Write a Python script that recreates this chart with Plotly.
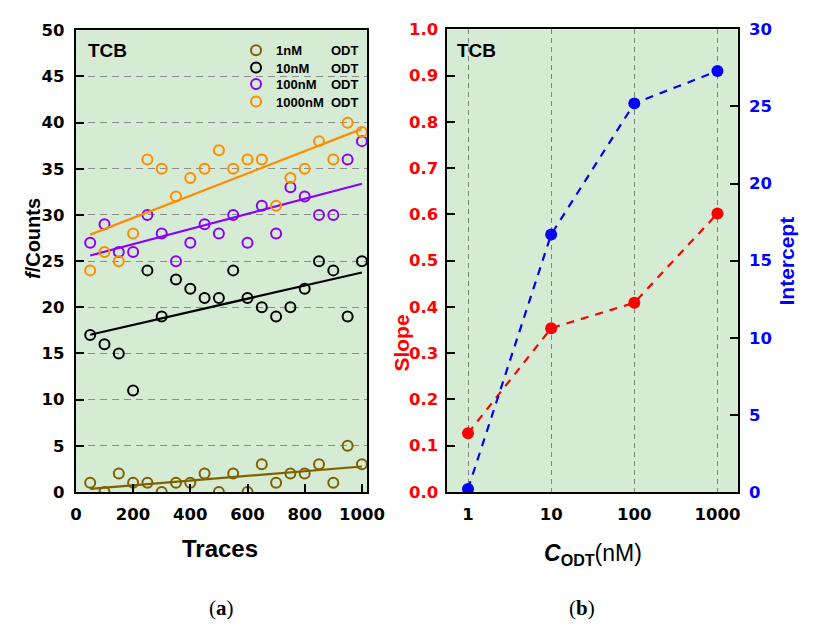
import numpy as np
import plotly.graph_objects as go

W, H = 816, 629

# ---------------- data ----------------
traces = [50, 100, 150, 200, 250, 300, 350, 400, 450, 500,
          550, 600, 650, 700, 750, 800, 850, 900, 950, 1000]
counts_1nM = [1, 0, 2, 1, 1, 0, 1, 1, 2, 0, 2, 0, 3, 1, 2, 2, 3, 1, 5, 3]
counts_10nM = [17, 16, 15, 11, 24, 19, 23, 22, 21, 21, 24, 21, 20, 19, 20, 22, 25, 24, 19, 25]
counts_100nM = [27, 29, 26, 26, 30, 28, 25, 27, 29, 28, 30, 27, 31, 28, 33, 32, 30, 30, 36, 38]
counts_1000nM = [24, 26, 25, 28, 36, 35, 32, 34, 35, 37, 35, 36, 36, 31, 34, 35, 38, 36, 40, 39]
series_names = ["1nM", "10nM", "100nM", "1000nM"]
series_colors = ["#7f6000", "#000000", "#8800ff", "#ff8c00"]

c_odt = [1, 10, 100, 1000]
slope = [0.127, 0.354, 0.409, 0.602]
intercept = [0.2, 16.7, 25.2, 27.3]

left_y_ticks = [0, 5, 10, 15, 20, 25, 30, 35, 40, 45, 50]
left_x_ticks = [0, 200, 400, 600, 800, 1000]
slope_ticks = [0.0, 0.1, 0.2, 0.3, 0.4, 0.5, 0.6, 0.7, 0.8, 0.9, 1.0]
intercept_ticks = [0, 5, 10, 15, 20, 25, 30]

# ---------------- layout helpers ----------------
def px_x(p):
    return p / W

def px_y(p):
    return 1 - p / H

BG = "#d5ebd3"
FONT = "Liberation Sans"
TICKFONT = "DejaVu Sans"
pad = {"1nM": 8, "10nM": 6, "100nM": 4, "1000nM": 2}
legend_ids = ["legend", "legend2", "legend3", "legend4"]
legend_rows = [43, 61, 78, 96]

fig = go.Figure()

all_series = [counts_1nM, counts_10nM, counts_100nM, counts_1000nM]
xs = np.array(traces, dtype=float)
for name, col, ys, lg in zip(series_names, series_colors, all_series, legend_ids):
    fig.add_trace(go.Scatter(
        x=traces, y=ys, mode="markers", xaxis="x", yaxis="y",
        name=name + "\u00a0" * pad[name] + "ODT", legend=lg,
        marker=dict(symbol="circle-open", size=10, color=col,
                    line=dict(width=2, color=col)),
    ))
    k, b = np.polyfit(xs, np.array(ys, dtype=float), 1)
    fig.add_trace(go.Scatter(
        x=[traces[0], traces[-1]], y=[k * traces[0] + b, k * traces[-1] + b],
        mode="lines", xaxis="x", yaxis="y", showlegend=False,
        line=dict(color=col, width=2.2),
    ))

fig.add_trace(go.Scatter(
    x=c_odt, y=slope, mode="lines+markers", xaxis="x2", yaxis="y2",
    showlegend=False,
    line=dict(color="#ff0000", width=2.2, dash="8px,7px"),
    marker=dict(size=12, color="#ff0000"),
))
fig.add_trace(go.Scatter(
    x=c_odt, y=intercept, mode="lines+markers", xaxis="x2", yaxis="y3",
    showlegend=False,
    line=dict(color="#0000ff", width=2.2, dash="8px,7px"),
    marker=dict(size=12, color="#0000ff"),
))

tickfont = dict(family=TICKFONT, size=16.5, color="black", weight="bold")

# plot areas in pixels
L1, R1, T1, B1 = 72, 372, 22, 498
L2, R2, T2, B2 = 454, 754, 21, 498

legend_common = dict(
    xanchor="left", yanchor="top",
    bgcolor="rgba(0,0,0,0)", borderwidth=0,
    font=dict(family=FONT, size=13, color="black", weight="bold"),
    itemwidth=30,
)
legends = {}
for lg, ry in zip(legend_ids, legend_rows):
    legends[lg] = dict(legend_common, x=px_x(237), y=px_y(ry - 16))

fig.update_layout(
    width=W, height=H,
    margin=dict(l=0, r=0, t=0, b=0),
    paper_bgcolor="white",
    plot_bgcolor=BG,
    font=dict(family=FONT, color="black"),
    showlegend=True,
    **legends,
    xaxis=dict(
        domain=[px_x(L1), px_x(R1)], anchor="y",
        range=[0, 1018], tickvals=left_x_ticks,
        showline=True, linecolor="black", linewidth=2, mirror=True,
        ticks="inside", ticklen=8, tickwidth=2, tickcolor="black",
        showgrid=False, zeroline=False, tickfont=tickfont,
        ticklabelstandoff=6,
    ),
    yaxis=dict(
        domain=[px_y(B1), px_y(T1)], anchor="x",
        range=[0, 50], tickvals=left_y_ticks,
        showline=True, linecolor="black", linewidth=2, mirror=True,
        ticks="inside", ticklen=8, tickwidth=2, tickcolor="black",
        showgrid=True, gridcolor="#8c8c8c", gridwidth=1.3, griddash="7px,5px",
        zeroline=False, tickfont=tickfont, ticklabelstandoff=6,
    ),
    xaxis2=dict(
        domain=[px_x(L2), px_x(R2)], anchor="y2", type="log",
        range=[-0.257, 3.245], tickvals=c_odt, ticktext=[str(v) for v in c_odt],
        showline=True, linecolor="black", linewidth=2, mirror=True,
        ticks="", showgrid=True, gridcolor="#808080", gridwidth=1,
        griddash="5px,4px", zeroline=False, tickfont=tickfont,
        ticklabelstandoff=6,
    ),
    yaxis2=dict(
        domain=[px_y(B2), px_y(T2)], anchor="x2",
        range=[0, 1.0], tickvals=slope_ticks, tickformat=".1f",
        showline=True, linecolor="black", linewidth=2,
        ticks="inside", ticklen=8, tickwidth=2, tickcolor="black",
        showgrid=False, zeroline=False,
        tickfont=dict(tickfont, color="#ff0000"),
        ticklabelstandoff=3,
    ),
    yaxis3=dict(
        domain=[px_y(B2), px_y(T2)], anchor="x2", overlaying="y2", side="right",
        range=[0, 30], tickvals=intercept_ticks,
        showline=True, linecolor="black", linewidth=2,
        ticks="inside", ticklen=8, tickwidth=2, tickcolor="black",
        showgrid=False, zeroline=False,
        tickfont=dict(tickfont, color="#0000ff"),
        ticklabelstandoff=6,
    ),
)

ann = []
def add_text(text, x, y, size, color="black", angle=0, xanchor="center",
             family=FONT, weight="bold"):
    ann.append(dict(text=text, x=px_x(x), y=px_y(y), xref="paper", yref="paper",
                    showarrow=False, textangle=angle, xanchor=xanchor,
                    yanchor="middle",
                    font=dict(family=family, size=size, color=color, weight=weight)))

add_text("TCB", 82, 43, 19, xanchor="left")
add_text("TCB", 463, 43, 19, xanchor="left")
add_text("<i>f</i>/Counts", 28, 237, 20, angle=-90)
add_text("Traces", 221, 556, 24)
add_text("Slope", 408, 345, 21, color="#ff0000", angle=-90)
add_text("Intercept", 804, 260, 21, color="#0000ff", angle=-90)
add_text("<b><i>C</i><sub>ODT</sub></b>(nM)", 605, 563, 23, weight="normal")
add_text("(<b>a</b>)", 222, 618, 21, family="Liberation Serif", weight="normal")
add_text("(<b>b</b>)", 593, 618, 21, family="Liberation Serif", weight="normal")
fig.update_layout(annotations=ann)

fig.write_html("out.html")
